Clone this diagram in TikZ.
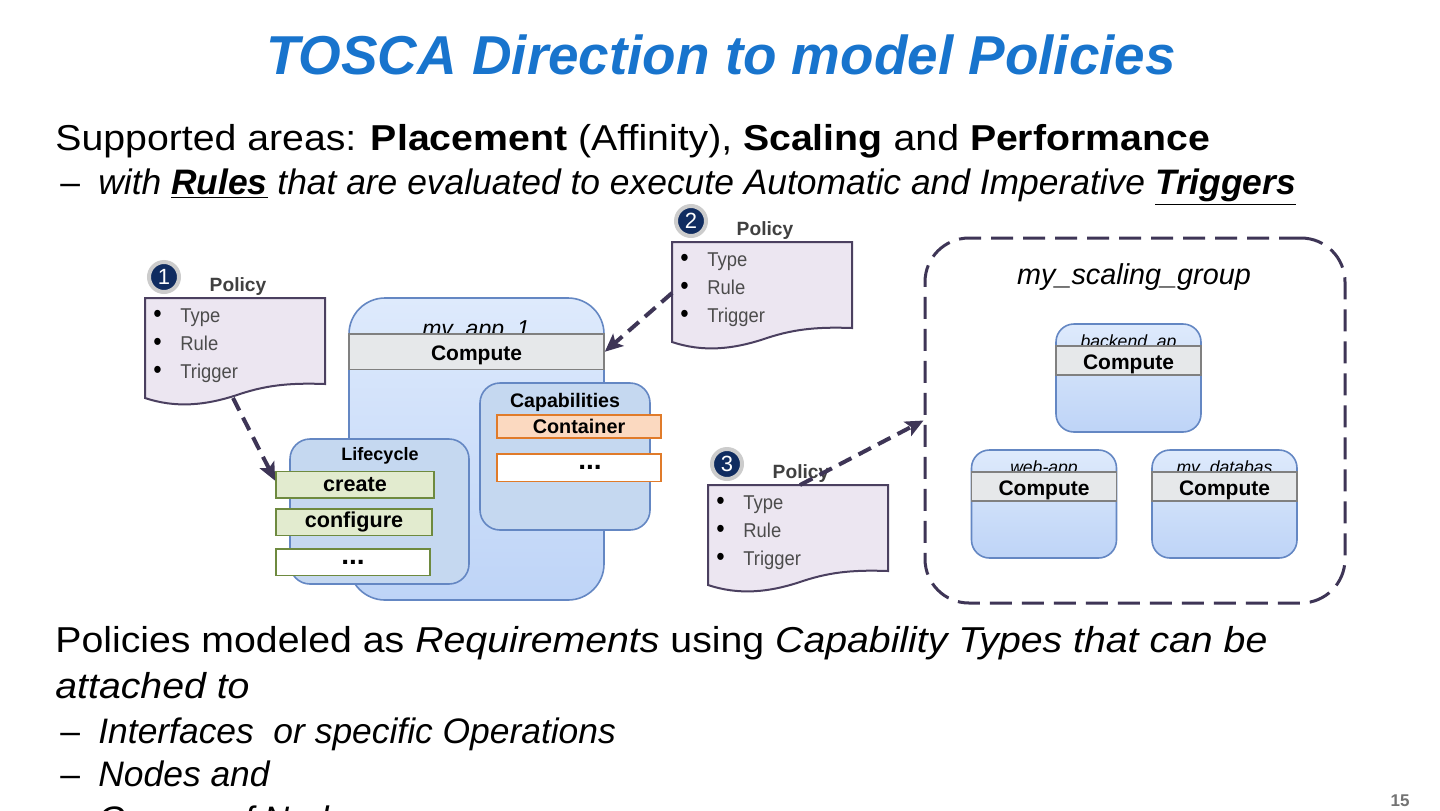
\documentclass[tikz,border=0pt]{standalone}
\usepackage{fontspec}
\setmainfont{Liberation Sans}
\newfontfamily\widefont{Liberation Sans}[FakeStretch=1.09]
\newfontfamily\boxfont{Liberation Sans}
\newfontfamily\narrowfont{Liberation Sans}[FakeStretch=0.92]
\usetikzlibrary{arrows.meta}
\definecolor{toscablue}{RGB}{24,116,205}
\definecolor{linkc}{RGB}{62,53,86}
\definecolor{polfill}{RGB}{236,230,241}
\definecolor{poldraw}{RGB}{75,64,96}
\definecolor{apptop}{RGB}{222,234,252}
\definecolor{appbot}{RGB}{190,212,247}
\definecolor{appdraw}{RGB}{100,135,195}
\definecolor{lcfill}{RGB}{197,216,240}
\definecolor{bandfill}{RGB}{230,232,234}
\definecolor{banddraw}{RGB}{128,128,128}
\definecolor{opfill}{RGB}{226,235,207}
\definecolor{opdraw}{RGB}{110,138,63}
\definecolor{capfill}{RGB}{251,217,192}
\definecolor{capdraw}{RGB}{224,123,42}
\definecolor{badgec}{RGB}{16,44,96}
\begin{document}
\begin{tikzpicture}[x=0.5pt,y=-0.5pt,
  txt/.style={anchor=base west,inner sep=0},
  nodebox/.style={draw=appdraw,line width=0.8pt,top color=apptop,bottom color=appbot,rounded corners=9pt,inner sep=0},
  band/.style={draw=banddraw,line width=0.8pt,fill=bandfill,inner sep=0,text height=9pt,text depth=0pt,font=\boxfont\bfseries\fontsize{10.5}{12}\selectfont},
  inbox/.style={draw=appdraw,line width=0.8pt,fill=lcfill,rounded corners=10pt,inner sep=0},
  op/.style={draw=opdraw,line width=0.8pt,fill=opfill,minimum height=13.25pt,inner sep=0,font=\boxfont\bfseries\fontsize{10.8}{12}\selectfont},
  capab/.style={draw=capdraw,line width=0.8pt,fill=capfill,minimum width=82pt,inner sep=0,font=\boxfont\bfseries\fontsize{9.9}{11}\selectfont},
  dots/.style={fill=white,font=\boxfont\bfseries\fontsize{14}{14}\selectfont},
  badge/.style={circle,fill=badgec,draw=gray!40,line width=2pt,minimum size=15pt,inner sep=0,text=white,font=\boxfont\fontsize{11}{11}\selectfont},
  flow/.style={draw=linkc,line width=2pt,dash pattern=on 7pt off 4pt,-{Stealth[length=9pt,width=8pt,inset=2pt]}}]
  \useasboundingbox (0,0) rectangle (1440,810);
  \fill[white] (0,0) rectangle (1440,810);
  \node[anchor=base,inner sep=0,text=toscablue,font=\boxfont\bfseries\itshape\fontsize{27.4}{30}\selectfont] (title) at (721,74) {TOSCA Direction to model Policies};
  \node[txt,font=\widefont\fontsize{18}{20}\selectfont] (areas) at (55,150) {Supported areas: \textbf{Placement} (Affinity), \textbf{Scaling} and \textbf{Performance}};
  \node[txt,font=\fontsize{17.7}{20}\selectfont\itshape] (rules) at (60,194) {\makebox[19pt][l]{\upshape –}with \underline{\textbf{Rules}} that are evaluated to execute Automatic and Imperative \underline{\textbf{Triggers}}};
  \node[draw=linkc,line width=1.5pt,dash pattern=on 11pt off 5pt,rounded corners=22pt,minimum width=210pt,minimum height=182.5pt] (grp) at (1135,420.5) {};
  \node[anchor=base,font=\boxfont\itshape\fontsize{14.4}{16}\selectfont] (grp-lab) at (1134,284) {my\_scaling\_group};
  \foreach \name/\x/\y/\lab in {be/1128.5/378/backend\_ap,web/1044/504/web-app,db/1224.5/504/my\_databas}{
    \node[nodebox,minimum width=72.5pt,minimum height=54pt] (\name) at (\x,\y) {};
    \node[anchor=base,font=\boxfont\itshape\fontsize{8.8}{10}\selectfont] (\name-lab) at (\x,\y-30.5) {\lab};
    \node[band,minimum width=72.5pt,minimum height=14.25pt] (\name-c) at (\x,\y-17.5) {Compute};
  }
  \node[nodebox,rounded corners=18pt,minimum width=127.5pt,minimum height=151pt] (app) at (476.5,449) {};
  \node[anchor=base,font=\boxfont\itshape\fontsize{11.5}{13}\selectfont] (app-lab) at (476,336) {my\_app\_1};
  \node[band,minimum width=127.5pt,minimum height=17.75pt] (app-c) at (476.5,351.75) {Compute};
  \node[inbox,minimum width=85pt,minimum height=73.5pt] (cap) at (565,456.5) {};
  \node[inner sep=0,font=\boxfont\bfseries\fontsize{9.8}{11}\selectfont] (cap-lab) at (565,402) {Capabilities};
  \node[capab,minimum height=11.5pt] (cont) at (579,426.5) {Container};
  \node[capab,dots,minimum height=13.8pt] (cap-more) at (579,467.8) {\hspace*{11pt}...};
  \node[inbox,minimum width=89.5pt,minimum height=72.5pt] (lc) at (379.5,511.5) {};
  \node[inner sep=0,font=\boxfont\bfseries\fontsize{9}{10}\selectfont] (lc-lab) at (380,456) {Lifecycle};
  \node[op,minimum width=79pt] (create) at (355,484.75) {create};
  \node[op,minimum width=78pt] (configure) at (354,522.25) {configure};
  \node[op,dots,minimum width=77pt] (lc-more) at (353,562.3) {...};
  \foreach \n/\x/\y in {1/145/298,2/672/242,3/708/485}{
    \draw[draw=poldraw,line width=1pt,fill=polfill] (\x,\y) -- (\x+180,\y) -- (\x+180,\y+86) .. controls (\x+150,\y+85) and (\x+125,\y+86) .. (\x+95,\y+96) .. controls (\x+60,\y+108) and (\x+30,\y+110) .. (\x,\y+100) -- cycle;
    \coordinate (doc\n-w) at (\x,\y+51);
    \coordinate (doc\n-n) at (\x+92,\y);
    \coordinate (doc\n-s) at (\x+88,\y+100);
    \node[anchor=north west,inner sep=0,align=left,text=black!70,font=\narrowfont\fontsize{10}{14.2}\selectfont] (pol\n) at (\x+8,\y+10) {\makebox[13.5pt][l]{\color{black}\fontsize{13}{13}\selectfont\textbullet}Type\\ \makebox[13.5pt][l]{\color{black}\fontsize{13}{13}\selectfont\textbullet}Rule\\ \makebox[13.5pt][l]{\color{black}\fontsize{13}{13}\selectfont\textbullet}Trigger};
    \node[inner sep=0,text=black!75,font=\boxfont\bfseries\fontsize{9.6}{11}\selectfont] (lab\n) at (\x+93,\y-11) {Policy};
    \node[badge] (b\n) at (\x+19,\y-21) {\n};
  }
  \draw[flow] (doc1-s) -- ([yshift=2pt]create.west);
  \draw[flow] (doc2-w) -- (app-c.east);
  \draw[flow] (doc3-n) -- (grp.west);
  \node[txt,font=\widefont\fontsize{18}{20}\selectfont] (req) at (55,652) {Policies modeled as \textit{Requirements} using \textit{Capability Types that can be}};
  \node[txt,font=\widefont\fontsize{18}{20}\selectfont\itshape] (req2) at (55,698) {attached to};
  \foreach \t/\y in {Interfaces\ \ or specific Operations/743,Nodes and/786,Groups of Nodes/831}
    \node[txt,font=\fontsize{17.7}{20}\selectfont\itshape] at (60,\y) {\makebox[19pt][l]{\upshape –}\t};
  \node[anchor=base east,inner sep=0,text=black!55,font=\boxfont\bfseries\fontsize{8.5}{10}\selectfont] (pg) at (1410,806) {15};
\end{tikzpicture}
\end{document}
